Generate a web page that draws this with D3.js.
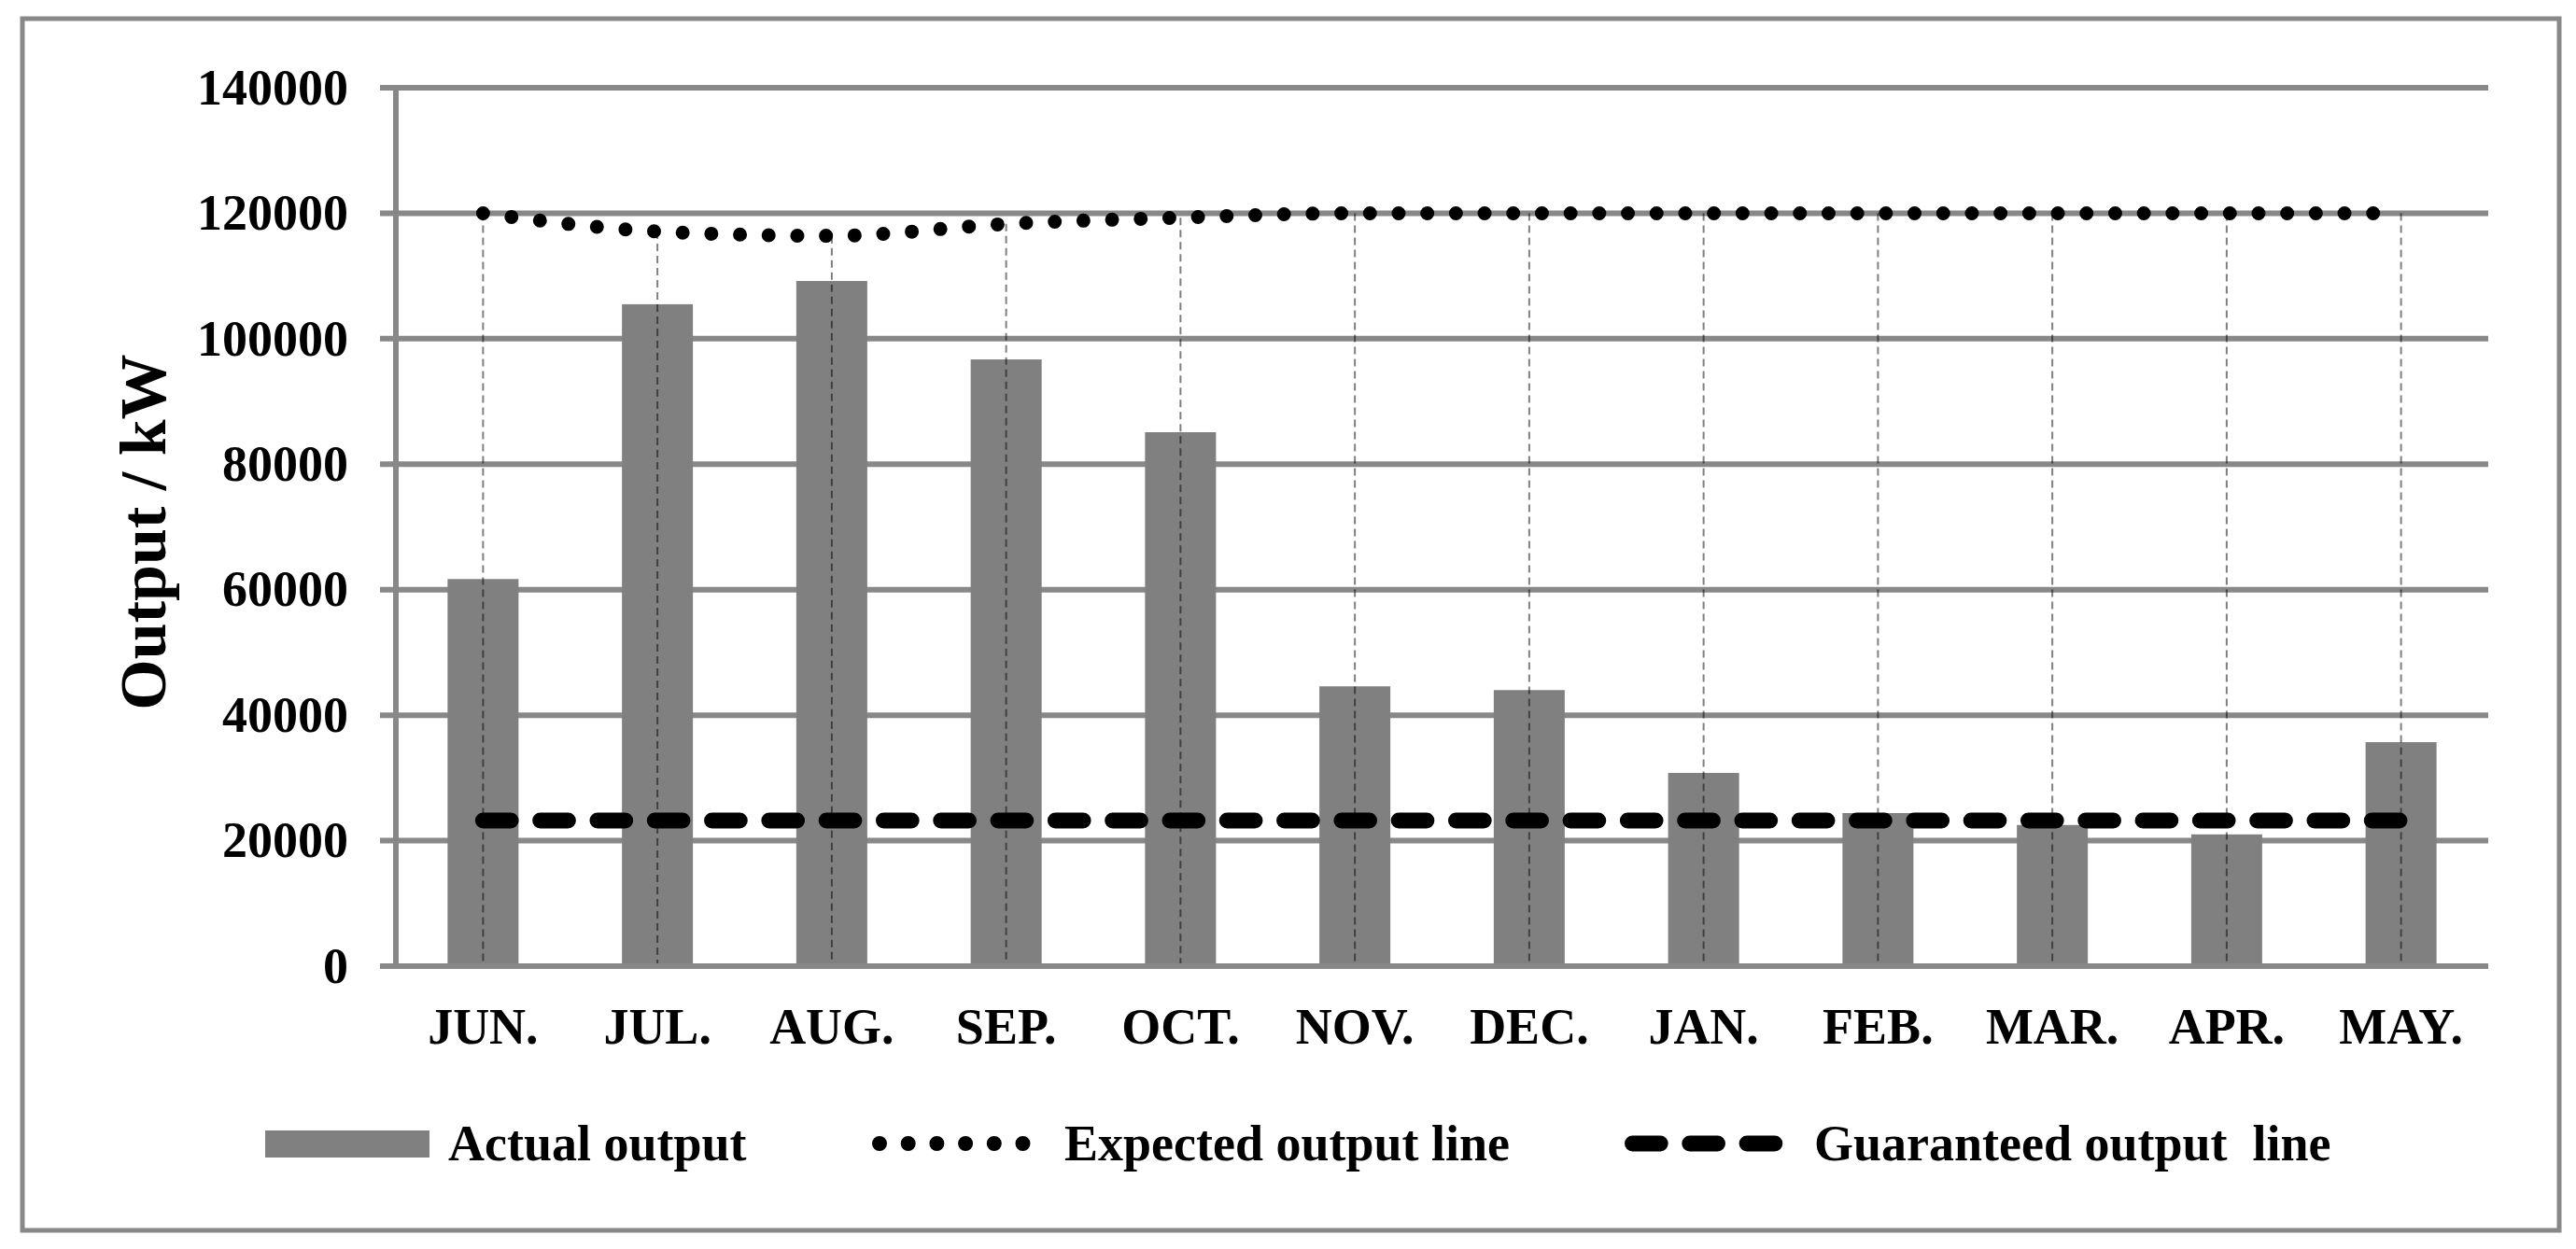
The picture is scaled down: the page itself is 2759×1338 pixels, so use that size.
<!DOCTYPE html>
<html>
<head>
<meta charset="utf-8">
<script src="https://cdn.jsdelivr.net/npm/d3@7"></script>
<style>
  html, body { margin: 0; padding: 0; background: #fff; }
  svg { display: block; }
  text { font-family: "Liberation Serif", "Times New Roman", serif; font-weight: bold; fill: #000; }
</style>
</head>
<body>
<svg id="chart" width="2759" height="1338"></svg>
<script>
// ---- data ----
const months = ["JUN.", "JUL.", "AUG.", "SEP.", "OCT.", "NOV.", "DEC.", "JAN.", "FEB.", "MAR.", "APR.", "MAY."];
const actualOutput = [61700, 105500, 109200, 96700, 85100, 44600, 44000, 30800, 24400, 22500, 21000, 35700];
const expectedOutput = [120000, 117100, 116400, 118300, 119300, 120000, 120000, 120000, 120000, 120000, 120000, 120000];
const guaranteedOutput = [23200, 23200, 23200, 23200, 23200, 23200, 23200, 23200, 23200, 23200, 23200, 23200];
const yTicks = [0, 20000, 40000, 60000, 80000, 100000, 120000, 140000];
const yTitle = "Output / kW";
const legendLabels = ["Actual output", "Expected output line", "Guaranteed output  line"];

// ---- layout ----
const plotLeft = 424, plotRight = 2665, plotTop = 94, plotBottom = 1035;
const gray = "#888888", barColor = "#808080";

const svg = d3.select("#chart");
svg.append("rect").attr("x", 0).attr("y", 0).attr("width", 2759).attr("height", 1338).attr("fill", "#fff");

// outer border
svg.append("rect")
  .attr("x", 24).attr("y", 20).attr("width", 2717).attr("height", 1298)
  .attr("fill", "none").attr("stroke", gray).attr("stroke-width", 5);

const x = d3.scaleBand().domain(months).range([plotLeft, plotRight]).paddingInner(0.593).paddingOuter(0.2965);
const xc = d => x(d) + x.bandwidth() / 2;
const y = d3.scaleLinear().domain([0, 140000]).range([plotBottom, plotTop]);

// gridlines (with left tick extension)
svg.append("g").selectAll("line").data(yTicks).join("line")
  .attr("x1", plotLeft - 17).attr("x2", plotRight)
  .attr("y1", d => y(d)).attr("y2", d => y(d))
  .attr("stroke", gray).attr("stroke-width", 6);

// y axis labels
const yAxis = svg.append("g").attr("transform", `translate(${plotLeft},0)`)
  .call(d3.axisLeft(y).tickValues(yTicks).tickSize(0).tickPadding(51).tickFormat(d3.format("d")));
yAxis.select(".domain").remove();
yAxis.selectAll("text").attr("font-size", 54).style("font-family", '"Liberation Serif", "Times New Roman", serif').style("font-weight", "bold");

// bars
svg.append("g").selectAll("rect").data(months).join("rect")
  .attr("x", d => x(d)).attr("width", x.bandwidth())
  .attr("y", (d, i) => y(actualOutput[i]))
  .attr("height", (d, i) => y(0) - y(actualOutput[i]) - 3)
  .attr("fill", barColor);

// drop lines
svg.append("g").selectAll("line").data(months).join("line")
  .attr("x1", d => xc(d)).attr("x2", d => xc(d))
  .attr("y1", (d, i) => y(expectedOutput[i])).attr("y2", plotBottom)
  .attr("stroke", "#000").attr("stroke-opacity", 0.5)
  .attr("stroke-width", 2).attr("stroke-dasharray", "8,5");

// axis lines
svg.append("line").attr("x1", plotLeft).attr("x2", plotLeft).attr("y1", plotTop).attr("y2", plotBottom)
  .attr("stroke", gray).attr("stroke-width", 6);
svg.append("line").attr("x1", plotLeft - 17).attr("x2", plotRight).attr("y1", plotBottom).attr("y2", plotBottom)
  .attr("stroke", gray).attr("stroke-width", 6);

// x axis labels
const xAxis = svg.append("g").attr("transform", `translate(0,${plotBottom})`)
  .call(d3.axisBottom(x).tickSize(0).tickPadding(45));
xAxis.select(".domain").remove();
xAxis.selectAll("text").attr("font-size", 54).style("font-family", '"Liberation Serif", "Times New Roman", serif').style("font-weight", "bold");

// expected output (dotted smooth line)
const lineGen = d3.line().x((d, i) => xc(months[i])).y(d => y(d)).curve(d3.curveMonotoneX);
svg.append("path").datum(expectedOutput)
  .attr("d", lineGen).attr("fill", "none").attr("stroke", "#000")
  .attr("stroke-width", 15).attr("stroke-linecap", "round").attr("stroke-dasharray", "0,30.7");

// guaranteed output (dashed line)
svg.append("path").datum(guaranteedOutput)
  .attr("d", d3.line().x((d, i) => xc(months[i])).y(d => y(d)))
  .attr("fill", "none").attr("stroke", "#000")
  .attr("stroke-width", 17).attr("stroke-linecap", "round").attr("stroke-dasharray", "29.7,31.6");

// y title
svg.append("text")
  .attr("transform", "translate(177,570) rotate(-90)")
  .attr("text-anchor", "middle").attr("font-size", 70)
  .text(yTitle);

// legend
const lg = svg.append("g");
lg.append("rect").attr("x", 284).attr("y", 1211).attr("width", 176).attr("height", 29).attr("fill", barColor);
lg.append("path").attr("d", "M942,1225H1096").attr("stroke", "#000").attr("stroke-width", 16)
  .attr("stroke-linecap", "round").attr("stroke-dasharray", "0,30.7").attr("fill", "none");
lg.append("path").attr("d", "M1748.5,1225H1902").attr("stroke", "#000").attr("stroke-width", 17)
  .attr("stroke-linecap", "round").attr("stroke-dasharray", "29.7,31.6").attr("fill", "none");
const legendX = [480, 1140, 1943];
lg.selectAll("text.lab").data(legendLabels).join("text").attr("class", "lab")
  .attr("x", (d, i) => legendX[i]).attr("y", 1243)
  .attr("font-size", 54).style("white-space", "pre")
  .text(d => d);
</script>
</body>
</html>
